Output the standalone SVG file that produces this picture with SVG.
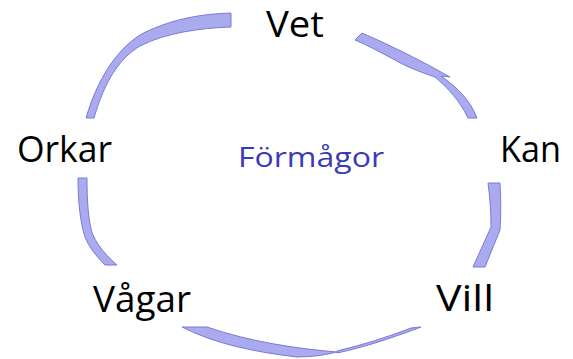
<svg xmlns="http://www.w3.org/2000/svg" width="573" height="359" viewBox="0 0 573 359">
<style>
.arc{fill:#aaaaee;stroke:#7a7ad8;stroke-width:1;stroke-linejoin:round}
.lbl{font-family:"Open Sans","Liberation Sans",sans-serif;font-size:36px;fill:#000}
.ctr{font-family:"Open Sans","Liberation Sans",sans-serif;font-size:28px;fill:#3a3ab8}
</style>
<rect width="573" height="359" fill="#fff"/>
<g id="connectors">
<path class="arc" d="M86,118 C100,70 125,40 150,30 C175,19 200,14 231,13 L231,27 C200,28 165,33 140,46 C120,58 105,80 94,118 Z"/>
<path class="arc" d="M355,40 L362,33 C392,46 422,61 450,77 L441,76 C458,88 470,100 477,118 L468,118 C460,101 448,88 435,77 C420,72 405,66 395,60 C380,52 367,45 355,40 Z"/>
<path class="arc" d="M488,183 L500,183 C501,200 501,215 500,230 L485,267 L473,267 L491,227 C491,212 490,197 488,183 Z"/>
<path class="arc" d="M182,327 C215,344 255,352 297,357 C312,357 325,355 337,352 C300,349 250,342 207,327 Z"/>
<path class="arc" d="M337,353 C365,347 392,338 421,327 L411,328 C388,337 362,345 337,351 Z"/>
<path class="arc" d="M78,178 L87,178 C87,205 89,225 93,235 C99,248 108,257 117,265 L105,265 C96,256 89,247 85,237 C80,222 78,200 78,178 Z"/>
</g>
<g id="vet"><text class="lbl" x="266" y="37" textLength="58" lengthAdjust="spacingAndGlyphs">Vet</text></g>
<g id="kan"><text class="lbl" x="500" y="162" textLength="61" lengthAdjust="spacingAndGlyphs">Kan</text></g>
<g id="vill"><text class="lbl" x="436" y="311" textLength="58" lengthAdjust="spacingAndGlyphs">Vill</text></g>
<g id="vagar"><text class="lbl" x="93" y="312" textLength="98" lengthAdjust="spacingAndGlyphs">Vågar</text></g>
<g id="orkar"><text class="lbl" x="17" y="162" textLength="95" lengthAdjust="spacingAndGlyphs">Orkar</text></g>
<g id="formagor"><text class="ctr" x="238" y="167" textLength="146" lengthAdjust="spacingAndGlyphs">Förmågor</text></g>
</svg>
